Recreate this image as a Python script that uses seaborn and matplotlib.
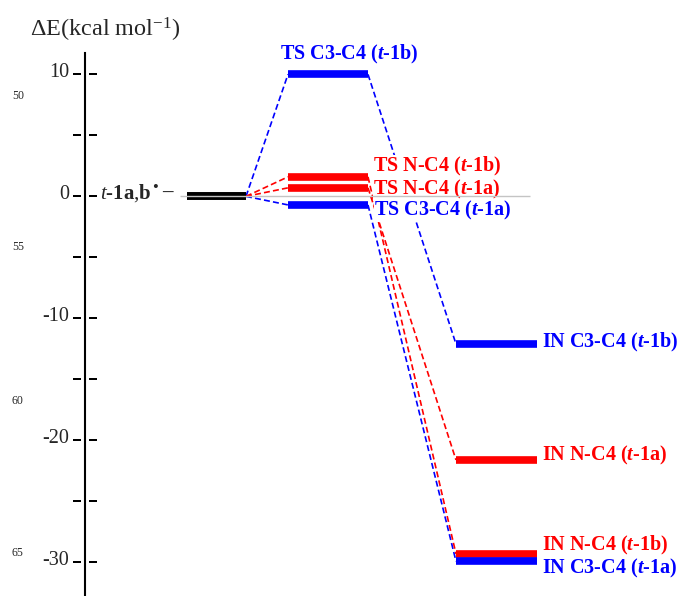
import numpy as np
import pandas as pd
import matplotlib
matplotlib.use('Agg')
import matplotlib.pyplot as plt
import matplotlib.transforms as mtransforms
import seaborn as sns

sns.set_style('white')
plt.rcParams['font.family'] = ['Liberation Serif', 'DejaVu Serif']
plt.rcParams['mathtext.fontset'] = 'custom'
plt.rcParams['mathtext.rm'] = 'Liberation Serif'
plt.rcParams['mathtext.it'] = 'Liberation Serif:italic'
plt.rcParams['mathtext.bf'] = 'Liberation Serif:bold'
plt.rcParams['mathtext.bfit'] = 'Liberation Serif:italic:bold'

# relative energies (kcal/mol)
reactant_label = r'$\mathit{t}$-$\mathbf{1a}$,$\mathbf{b}$'
reactant_E = [0.0, 0.0]
ts_names = [r'TS C3-C4 ($\mathbfit{t}$-1b)', r'TS N-C4 ($\mathbfit{t}$-1b)',
            r'TS N-C4 ($\mathbfit{t}$-1a)', r'TS C3-C4 ($\mathbfit{t}$-1a)']
ts_E = [10.0, 1.6, 0.7, -0.7]
in_names = [r'IN C3-C4 ($\mathbfit{t}$-1b)', r'IN N-C4 ($\mathbfit{t}$-1b)',
            r'IN N-C4 ($\mathbfit{t}$-1a)', r'IN C3-C4 ($\mathbfit{t}$-1a)']
in_E = [-12.1, -29.3, -21.6, -29.9]
path_colors = ['blue', 'red', 'red', 'blue']
major_ticks = [10, 0, -10, -20, -30]
minor_ticks = [5, -5, -15, -25]
margin_numbers = ['50', '55', '60', '65']

palette = {'blue': '#0000ff', 'red': '#ff0000'}

# ---- layout (pixels, x axis runs in pixel units) ----
col_R = (187, 246)
col_TS = (288, 368)
col_IN = (456, 537)
ts_offsets = [(-8, 20), (5, 10), (5, -2), (6, -6)]
in_offsets = [(5, 2), (5, 8.5), (5, 4), (5, -7.5)]
margin_y = [96, 247, 401, 553]

fig = plt.figure(figsize=(6.88, 5.96), dpi=100)
ax = fig.add_axes([85 / 688, 0, 603 / 688, 543 / 596])
for s in ['top', 'right', 'bottom']:
    ax.spines[s].set_visible(False)
ax.spines['left'].set_linewidth(1.5)
ax.spines['left'].set_color('black')
ax.set_facecolor('none')

px = 72 / fig.dpi  # points per pixel

# connectors
rows = []
for i, (e_ts, e_in, c) in enumerate(zip(ts_E, in_E, path_colors)):
    e_r = reactant_E[0] if '1b' in ts_names[i] else reactant_E[1]
    rows += [(f'r{i}', col_R[1], e_r, c), (f'r{i}', col_TS[0], e_ts, c)]
    rows += [(f'p{i}', col_TS[1], e_ts, c), (f'p{i}', col_IN[0], e_in, c)]
conn = pd.DataFrame(rows, columns=['seg', 'x', 'E', 'color'])
sns.lineplot(data=conn, x='x', y='E', units='seg', estimator=None, hue='color',
             palette=palette, sort=False, legend=False, lw=1.2,
             linestyle=(0, (3.6, 1.9)), ax=ax, zorder=1)
ax.set_xlabel('')
ax.set_ylabel('')
ax.set_xticks([])
ax.set_yticks([])
ax.set_xlim(85, 688)
ax.set_ylim(-32.75, 11.75)

# levels
ax.hlines(reactant_E, *col_R, colors='black', lw=5.5, zorder=2)
for e, c in zip(ts_E, path_colors):
    ax.hlines(e, *col_TS, colors=palette[c], lw=5.5, zorder=2)
for e, c in zip(in_E, path_colors):
    ax.hlines(e, *col_IN, colors=palette[c], lw=5.5, zorder=2)
ax.hlines(0, 180, 530, colors='#c4c4c4', lw=1.0, zorder=5)

# labels
lab_kw = dict(textcoords='offset points', va='center', fontsize=14.5, fontweight='bold',
              zorder=4)
for i, (name, e, c) in enumerate(zip(ts_names, ts_E, path_colors)):
    dx, dy = ts_offsets[i]
    x0 = col_TS[0] if i == 0 else col_TS[1]
    ax.annotate(name, xy=(x0, e), xytext=(dx * px, dy * px), ha='left', color=palette[c],
                bbox=dict(fc='white', ec='none', pad=0), **lab_kw)
for i, (name, e, c) in enumerate(zip(in_names, in_E, path_colors)):
    dx, dy = in_offsets[i]
    ax.annotate(name, xy=(col_IN[1], e), xytext=(dx * px, dy * px), ha='left',
                color=palette[c], **lab_kw)
ax.annotate(reactant_label, xy=(col_R[0], reactant_E[0]), xytext=(-35 * px, 3 * px),
            textcoords='offset points', ha='right', va='center', fontsize=15)
ax.annotate('•', xy=(col_R[0], reactant_E[0]), xytext=(-32 * px, 8 * px),
            textcoords='offset points', ha='center', va='center', fontsize=12)
ax.annotate('–', xy=(col_R[0], reactant_E[0]), xytext=(-14 * px, 3 * px),
            textcoords='offset points', ha='right', va='center', fontsize=15,
            fontweight='bold')

# axis ticks drawn as dashes on both sides of the axis line
ytr = ax.get_yaxis_transform()
all_ticks = major_ticks + minor_ticks
for dx in (-8, 7.5):
    tr = ytr + mtransforms.ScaledTranslation(dx / fig.dpi, 0, fig.dpi_scale_trans)
    ax.plot(np.zeros(len(all_ticks)), all_ticks, transform=tr, ls='none', marker='_',
            ms=8 * px, mew=2 * px, color='black', clip_on=False)
num_tr = ytr + mtransforms.ScaledTranslation(-16 / fig.dpi, 2 / fig.dpi, fig.dpi_scale_trans)
for v in major_ticks:
    ax.text(0, v, str(v), transform=num_tr, ha='right', va='center', fontsize=14.5)

fig.text(30 / 688, 1 - 30 / 596, r'$\Delta$E(kcal mol$^{-1}$)', ha='left', va='center',
         fontsize=17.5)
for t, y in zip(margin_numbers, margin_y):
    fig.text(12 / 688, 1 - y / 596, t, ha='left', va='center', fontsize=8.5)

fig.savefig('out.png', dpi=100)
